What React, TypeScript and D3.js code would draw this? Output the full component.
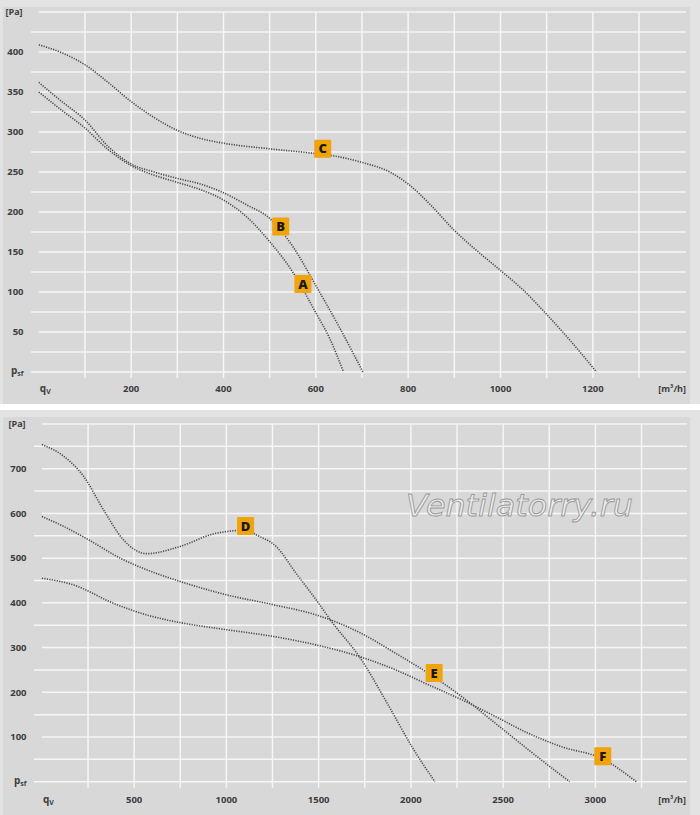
import * as d3 from "d3";

type Pt = [number, number];

// top chart: small fans, q in m³/h, p in Pa
const curveA: Pt[] = [[0, 350], [50, 327], [100, 305], [150, 278], [200, 258], [250, 246], [300, 237], [350, 228], [400, 215], [450, 194], [500, 163], [550, 125], [600, 74], [630, 42], [660, 0]];
const curveB: Pt[] = [[0, 362], [50, 338], [100, 315], [150, 282], [200, 260], [250, 250], [300, 242], [350, 235], [400, 224], [450, 209], [500, 192], [550, 157], [600, 108], [650, 57], [702, 0]];
const curveC: Pt[] = [[0, 409], [50, 399], [100, 384], [150, 362], [200, 338], [250, 318], [300, 302], [350, 292], [400, 286], [500, 279], [600, 273], [650, 269], [700, 262], [760, 250], [800, 235], [850, 208], [900, 177], [950, 151], [1000, 127], [1050, 102], [1100, 72], [1150, 40], [1208, 0]];

// bottom chart
const curveD: Pt[] = [[0, 754], [118, 728], [226, 683], [334, 608], [442, 541], [568, 510], [748, 526], [928, 554], [1054, 562], [1104, 564], [1162, 552], [1270, 526], [1378, 466], [1486, 407], [1576, 355], [1720, 280], [1882, 168], [2006, 78], [2130, 0]];
const curveE: Pt[] = [[0, 593], [118, 571], [253, 541], [424, 500], [568, 474], [748, 448], [1000, 418], [1252, 396], [1486, 373], [1720, 334], [1918, 287], [2126, 234], [2277, 190], [2457, 131], [2638, 71], [2860, 0]];
const curveF: Pt[] = [[0, 455], [172, 440], [388, 399], [568, 373], [748, 356], [1000, 340], [1252, 325], [1486, 306], [1720, 280], [1918, 250], [2099, 216], [2277, 183], [2457, 146], [2638, 108], [2818, 78], [3034, 52], [3222, 0]];

// letter tags: [name, q, p]
const topTags: [string, number, number][] = [["A", 572, 110], ["B", 524, 182], ["C", 615, 279]];
const bottomTags: [string, number, number][] = [["D", 1104, 572], ["E", 2126, 243], ["F", 3040, 57]];

const topXTicks = [200, 400, 600, 800, 1000, 1200];
const topYTicks = [50, 100, 150, 200, 250, 300, 350, 400];
const bottomXTicks = [500, 1000, 1500, 2000, 2500, 3000];
const bottomYTicks = [100, 200, 300, 400, 500, 600, 700];

type Panel = {
  top: number; bottom: number; // panel background
  x0: number; x1: number; qMax: number; qStep: number;
  y0: number; y1: number; pMax: number; pStep: number;
  labelX: number; lineEnd: number; xLabelY: number;
  curves: Pt[][]; tags: [string, number, number][];
  xTicks: number[]; yTicks: number[];
};

const panels: Panel[] = [
  {
    top: 0, bottom: 404,
    x0: 38.8, x1: 38.8 + 46.17 * 13, qMax: 1300, qStep: 100,
    y0: 372, y1: 12, pMax: 450, pStep: 25,
    labelX: 23.5, lineEnd: 686, xLabelY: 389,
    curves: [curveA, curveB, curveC], tags: topTags,
    xTicks: topXTicks, yTicks: topYTicks,
  },
  {
    top: 410, bottom: 815,
    x0: 41.9, x1: 41.9 + 46.125 * 13, qMax: 3250, qStep: 250,
    y0: 781.7, y1: 424, pMax: 800, pStep: 50,
    labelX: 26.5, lineEnd: 687, xLabelY: 800,
    curves: [curveD, curveE, curveF], tags: bottomTags,
    xTicks: bottomXTicks, yTicks: bottomYTicks,
  },
];

const font = "'Open Sans', 'DejaVu Sans', sans-serif";
const textColor = "#3d3d3d";

function Chart({ p }: { p: Panel }) {
  const x = d3.scaleLinear().domain([0, p.qMax]).range([p.x0, p.x1]);
  const y = d3.scaleLinear().domain([0, p.pMax]).range([p.y0, p.y1]);
  const line = d3.line<Pt>().x(d => x(d[0])).y(d => y(d[1])).curve(d3.curveMonotoneX);
  const hLines = d3.range(0, p.pMax + 1, p.pStep);
  const vLines = d3.range(p.qStep, p.qMax + 1, p.qStep);
  const labelled = (v: number) => v === p.pMax || p.yTicks.includes(v);

  return (
    <g>
      <rect x={0} y={p.top} width={700} height={p.bottom - p.top} fill="#e3e3e3" />
      <rect x={3} y={p.top + 7} width={687} height={p.bottom - p.top - 7} fill="#d8d8d8" />
      {hLines.map(v => (
        <line key={"h" + v} x1={labelled(v) ? p.x0 : p.x0 - 8} x2={p.lineEnd}
          y1={y(v)} y2={y(v)} stroke="#f6f6f6" strokeWidth={1.5} />
      ))}
      {vLines.map(v => (
        <line key={"v" + v} x1={x(v)} x2={x(v)} y1={y(p.pMax)} y2={y(0) + 6}
          stroke="#f6f6f6" strokeWidth={1.5} />
      ))}
      {p.yTicks.map(v => (
        <text key={"yt" + v} x={p.labelX} y={y(v)} dy="0.35em" textAnchor="end"
          fontFamily={font} fontWeight={700} fontSize={9.5} fill={textColor}>{v}</text>
      ))}
      <text x={p.labelX - 18} y={y(p.pMax)} dy="0.35em" fontFamily={font} fontWeight={700}
        fontSize={9} fill={textColor}>[Pa]</text>
      <text x={p.labelX} y={y(0)} dy="0.2em" textAnchor="end" fontFamily={font} fontWeight={700}
        fontSize={10} fill={textColor}>p<tspan fontSize={7} dy="2">sf</tspan></text>
      {p.xTicks.map(v => (
        <text key={"xt" + v} x={x(v)} y={p.xLabelY} dy="0.35em" textAnchor="middle"
          fontFamily={font} fontWeight={700} fontSize={9.5} fill={textColor}>{v}</text>
      ))}
      <text x={p.x0 + 1} y={p.xLabelY - 1} dy="0.35em" fontFamily={font} fontWeight={700}
        fontSize={10} fill={textColor}>q<tspan fontSize={7} dy="2">V</tspan></text>
      <text x={686} y={p.xLabelY} dy="0.35em" textAnchor="end" fontFamily={font} fontWeight={700}
        fontSize={9} fill={textColor}>[m³/h]</text>
      {p.curves.map((c, i) => (
        <path key={"c" + i} d={line(c) ?? ""} fill="none" stroke="#4a4a4a"
          strokeWidth={1.6} strokeDasharray="1.2 1.3" />
      ))}
      {p.tags.map(([name, q, v]) => (
        <g key={name} transform={`translate(${x(q)},${y(v)})`}>
          <rect x={-8.5} y={-9} width={17} height={18} fill="#f0a30a" rx={1} />
          <text textAnchor="middle" dy="0.36em" fontFamily={font} fontWeight={800}
            fontSize={13} fill="#1a1a1a">{name}</text>
        </g>
      ))}
    </g>
  );
}

export default function App() {
  return (
    <svg width={700} height={815} style={{ position: "absolute", left: 0, top: 0, display: "block" }}>
      <rect width={700} height={815} fill="#ffffff" />
      {panels.map((p, i) => <Chart key={i} p={p} />)}
      <text x={406} y={516} fontFamily="'DejaVu Sans', sans-serif" fontStyle="italic" fontSize={31}
        textLength={227} lengthAdjust="spacingAndGlyphs"
        fill="#ececec" stroke="#9a9a9a" strokeWidth={0.9}>Ventilatorry.ru</text>
    </svg>
  );
}
